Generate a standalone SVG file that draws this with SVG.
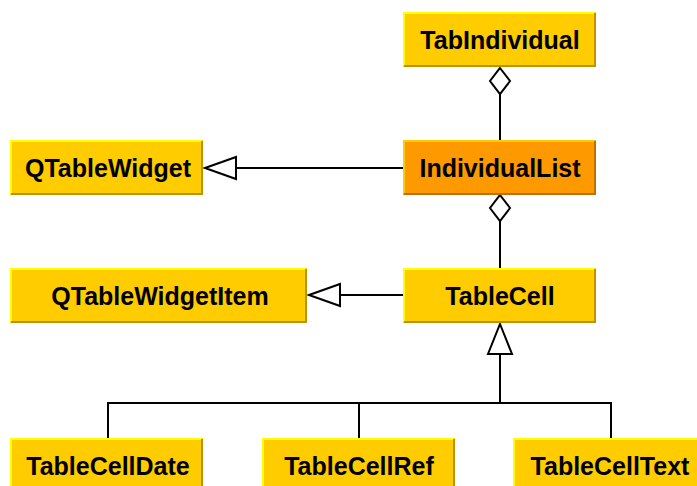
<svg xmlns="http://www.w3.org/2000/svg" width="697" height="486" viewBox="0 0 697 486">
  <style>
    .box { fill: #FFCC00; }
    .hi { fill: none; stroke: #FFFF00; stroke-width: 2; }
    .sh { fill: none; stroke: #BF9000; stroke-width: 2; }
    .cur .box { fill: #FF9900; }
    .cur .hi { stroke: #FFCC00; }
    .cur .sh { stroke: #BF7000; }
    .lbl { font-family: "Liberation Sans", Arial, sans-serif; font-weight: bold; font-size: 25px; fill: #000; text-anchor: middle; }
    .edge { fill: none; stroke: #000; stroke-width: 2; }
    .head { fill: #fff; stroke: #000; stroke-width: 2; stroke-linejoin: miter; }
  </style>
  <rect width="697" height="486" fill="#fff"/>

  <!-- connectors -->
  <g id="connectors">
    <!-- aggregation: TabIndividual holds IndividualList -->
    <line class="edge" x1="500" y1="94" x2="500" y2="140"/>
    <polygon class="head" points="500,68 510,81 500,94 490,81"/>
    <!-- aggregation: IndividualList holds TableCell -->
    <line class="edge" x1="500" y1="221" x2="500" y2="268"/>
    <polygon class="head" points="500,195 510,208 500,221 490,208"/>
    <!-- inheritance: IndividualList from QTableWidget -->
    <line class="edge" x1="236" y1="168" x2="403" y2="168"/>
    <polygon class="head" points="205,168 236,157 236,179"/>
    <!-- inheritance: TableCell from QTableWidgetItem -->
    <line class="edge" x1="340" y1="295" x2="403" y2="295"/>
    <polygon class="head" points="309,295 340,284 340,306"/>
    <!-- inheritance: cell subclasses from TableCell -->
    <polyline class="edge" points="108,438 108,403 611,403 611,438"/>
    <line class="edge" x1="359" y1="403" x2="359" y2="438"/>
    <line class="edge" x1="500" y1="354" x2="500" y2="403"/>
    <polygon class="head" points="500,324 512,354 488,354"/>
  </g>

  <g id="TabIndividual">
    <rect class="box" x="403" y="12" width="193" height="55"/>
    <polyline class="hi" points="404,66 404,13 595,13"/>
    <polyline class="sh" points="404,66 595,66 595,13"/>
    <text class="lbl" x="500" y="49">TabIndividual</text>
  </g>

  <g id="IndividualList" class="cur">
    <rect class="box" x="403" y="140" width="193" height="55"/>
    <polyline class="hi" points="404,194 404,141 595,141"/>
    <polyline class="sh" points="404,194 595,194 595,141"/>
    <text class="lbl" x="500" y="177">IndividualList</text>
  </g>

  <g id="QTableWidget">
    <rect class="box" x="10" y="140" width="193" height="55"/>
    <polyline class="hi" points="11,194 11,141 202,141"/>
    <polyline class="sh" points="11,194 202,194 202,141"/>
    <text class="lbl" x="108" y="177">QTableWidget</text>
  </g>

  <g id="QTableWidgetItem">
    <rect class="box" x="10" y="268" width="297" height="55"/>
    <polyline class="hi" points="11,322 11,269 306,269"/>
    <polyline class="sh" points="11,322 306,322 306,269"/>
    <text class="lbl" x="160" y="305">QTableWidgetItem</text>
  </g>

  <g id="TableCell">
    <rect class="box" x="403" y="268" width="193" height="55"/>
    <polyline class="hi" points="404,322 404,269 595,269"/>
    <polyline class="sh" points="404,322 595,322 595,269"/>
    <text class="lbl" x="500" y="305">TableCell</text>
  </g>

  <g id="TableCellDate">
    <rect class="box" x="10" y="438" width="193" height="55"/>
    <polyline class="hi" points="11,492 11,439 202,439"/>
    <polyline class="sh" points="11,492 202,492 202,439"/>
    <text class="lbl" x="108" y="475">TableCellDate</text>
  </g>

  <g id="TableCellRef">
    <rect class="box" x="262" y="438" width="193" height="55"/>
    <polyline class="hi" points="263,492 263,439 454,439"/>
    <polyline class="sh" points="263,492 454,492 454,439"/>
    <text class="lbl" x="359" y="475">TableCellRef</text>
  </g>

  <g id="TableCellText">
    <rect class="box" x="513" y="438" width="193" height="55"/>
    <polyline class="hi" points="514,492 514,439 705,439"/>
    <text class="lbl" x="610" y="475">TableCellText</text>
  </g>
</svg>
